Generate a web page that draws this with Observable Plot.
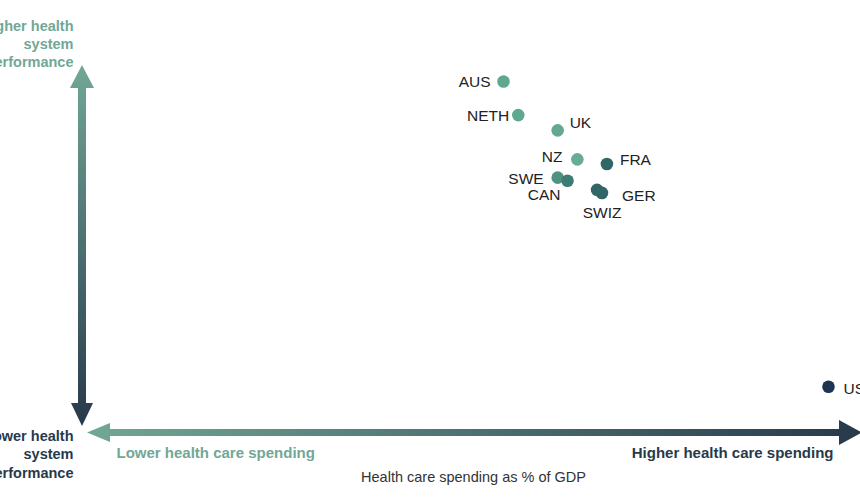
<!DOCTYPE html>
<html>
<head>
<meta charset="utf-8">
<script src="https://cdn.jsdelivr.net/npm/d3@7"></script>
<script src="https://cdn.jsdelivr.net/npm/@observablehq/plot@0.6"></script>
<style>
  html, body { margin: 0; padding: 0; background: #fff; }
  #chart { width: 860px; height: 504px; overflow: hidden; }
</style>
</head>
<body>
<div id="chart"></div>
<script>
// ---- Data ----
const countries   = ["AUS", "NETH", "UK", "NZ", "FRA", "SWE", "CAN", "GER", "SWIZ", "US"];
const spending    = [10.0, 10.3, 11.1, 11.5, 12.1, 11.1, 11.3, 12.0, 11.9, 16.6];   // % of GDP
const performance = [0.60, 0.38, 0.28, 0.09, 0.06, -0.03, -0.05, -0.13, -0.11, -1.40]; // performance score

// ---- Text ----
const xTitle = "Health care spending as % of GDP";
const lowSpendLabel = "Lower health care spending";
const highSpendLabel = "Higher health care spending";
const highPerfLabel = "Higher health\nsystem\nperformance";
const lowPerfLabel = "Lower health\nsystem\nperformance";

// ---- Scales / styles ----
const xDomain = [1.45, 17.25];
const yDomain = [-1.70, 1.131];
const teal = "#72a796";
const navy = "#27394b";
const dotColor = {
  AUS: "#5fa88e", NETH: "#5fa88e", UK: "#63a991", NZ: "#68ab96",
  SWE: "#4f9283", CAN: "#3d7c72", FRA: "#306668", GER: "#306668",
  SWIZ: "#306668", US: "#1d3550"
};
// label offsets (layout only)
const labelPlace = {
  AUS:  {dx: -13, dy: 1,  anchor: "end"},
  NETH: {dx: -9,  dy: 1,  anchor: "end"},
  UK:   {dx: 12,  dy: -7, anchor: "start"},
  NZ:   {dx: -15, dy: -2, anchor: "end"},
  FRA:  {dx: 13,  dy: -4, anchor: "start"},
  SWE:  {dx: -14, dy: 1,  anchor: "end"},
  CAN:  {dx: -7,  dy: 14, anchor: "end"},
  GER:  {dx: 20,  dy: 3,  anchor: "start"},
  SWIZ: {dx: 5,   dy: 23, anchor: "middle"},
  US:   {dx: 15,  dy: 2,  anchor: "start"}
};

const data = countries.map((c, i) => ({country: c, spending: spending[i], performance: performance[i]}));
const font = "'Liberation Sans', Arial, Helvetica, sans-serif";

// Decorative gradient arrows along the frame edges
function arrows(index, scales, values, dim) {
  const ns = "http://www.w3.org/2000/svg";
  const g = document.createElementNS(ns, "g");
  const left = dim.marginLeft;
  const bottom = dim.height - dim.marginBottom;
  const right = dim.width;
  const defs = document.createElementNS(ns, "defs");
  function grad(id, x1, y1, x2, y2) {
    const lg = document.createElementNS(ns, "linearGradient");
    lg.setAttribute("id", id);
    lg.setAttribute("gradientUnits", "userSpaceOnUse");
    lg.setAttribute("x1", x1); lg.setAttribute("y1", y1);
    lg.setAttribute("x2", x2); lg.setAttribute("y2", y2);
    [[0, teal], [1, navy]].forEach(([o, c]) => {
      const s = document.createElementNS(ns, "stop");
      s.setAttribute("offset", o); s.setAttribute("stop-color", c);
      lg.appendChild(s);
    });
    defs.appendChild(lg);
  }
  const vx = left, vTop = 65, vBot = bottom - 6;
  const hy = bottom + 0.5, hLeft = left + 5, hRight = right + 2;
  grad("vgrad", 0, vTop, 0, vBot);
  grad("hgrad", hLeft, 0, hRight, 0);
  g.appendChild(defs);
  const sw = 4, hh = 23;
  const vPath = `M${vx},${vTop} L${vx + 12},${vTop + hh} L${vx + sw},${vTop + hh} L${vx + sw},${vBot - hh} L${vx + 11},${vBot - hh} L${vx},${vBot} L${vx - 11},${vBot - hh} L${vx - sw},${vBot - hh} L${vx - sw},${vTop + hh} L${vx - 12},${vTop + hh} Z`;
  const hs = 3.5;
  const hPath = `M${hLeft},${hy} L${hLeft + hh},${hy - 9.5} L${hLeft + hh},${hy - hs} L${hRight - hh},${hy - hs} L${hRight - hh},${hy - 12.5} L${hRight},${hy} L${hRight - hh},${hy + 12.5} L${hRight - hh},${hy + hs} L${hLeft + hh},${hy + hs} L${hLeft + hh},${hy + 9.5} Z`;
  [[vPath, "url(#vgrad)"], [hPath, "url(#hgrad)"]].forEach(([d, f]) => {
    const p = document.createElementNS(ns, "path");
    p.setAttribute("d", d); p.setAttribute("fill", f);
    g.appendChild(p);
  });
  return g;
}

const labelMarks = countries.map(c => Plot.text(data.filter(d => d.country === c), {
  x: "spending", y: "performance", text: "country",
  dx: labelPlace[c].dx, dy: labelPlace[c].dy, textAnchor: labelPlace[c].anchor,
  fontSize: 15.5, fill: "#222", fontFamily: font
}));

const chart = Plot.plot({
  width: 860,
  height: 504,
  marginLeft: 82,
  marginRight: 0,
  marginTop: 0,
  marginBottom: 72,
  style: {fontFamily: font, background: "#fff", overflow: "visible"},
  x: {domain: xDomain, axis: null},
  y: {domain: yDomain, axis: null},
  marks: [
    arrows,
    Plot.dot(data, {x: "spending", y: "performance", r: 6.3, fill: d => dotColor[d.country], stroke: "none"}),
    ...labelMarks,
    Plot.text([highPerfLabel], {text: d => d, frameAnchor: "top-left", dx: -9, dy: 43, textAnchor: "end", lineAnchor: "middle", lineHeight: 1.25, fontSize: 14.5, fontWeight: "bold", fill: teal, fontFamily: font}),
    Plot.text([lowPerfLabel], {text: d => d, frameAnchor: "bottom-left", dx: -9, dy: 21, textAnchor: "end", lineAnchor: "middle", lineHeight: 1.27, fontSize: 14.5, fontWeight: "bold", fill: navy, fontFamily: font}),
    Plot.text([lowSpendLabel], {text: d => d, frameAnchor: "bottom-left", dx: 34, dy: 21, textAnchor: "start", lineAnchor: "middle", fontSize: 15, fontWeight: "bold", fill: teal, fontFamily: font}),
    Plot.text([highSpendLabel], {text: d => d, frameAnchor: "bottom-right", dx: -27, dy: 21, textAnchor: "end", lineAnchor: "middle", fontSize: 15, fontWeight: "bold", fill: navy, fontFamily: font}),
    Plot.text([xTitle], {text: d => d, frameAnchor: "bottom", dx: 2, dy: 45, lineAnchor: "middle", fontSize: 14.5, fill: "#333", fontFamily: font})
  ]
});
document.getElementById("chart").appendChild(chart);
</script>
</body>
</html>
